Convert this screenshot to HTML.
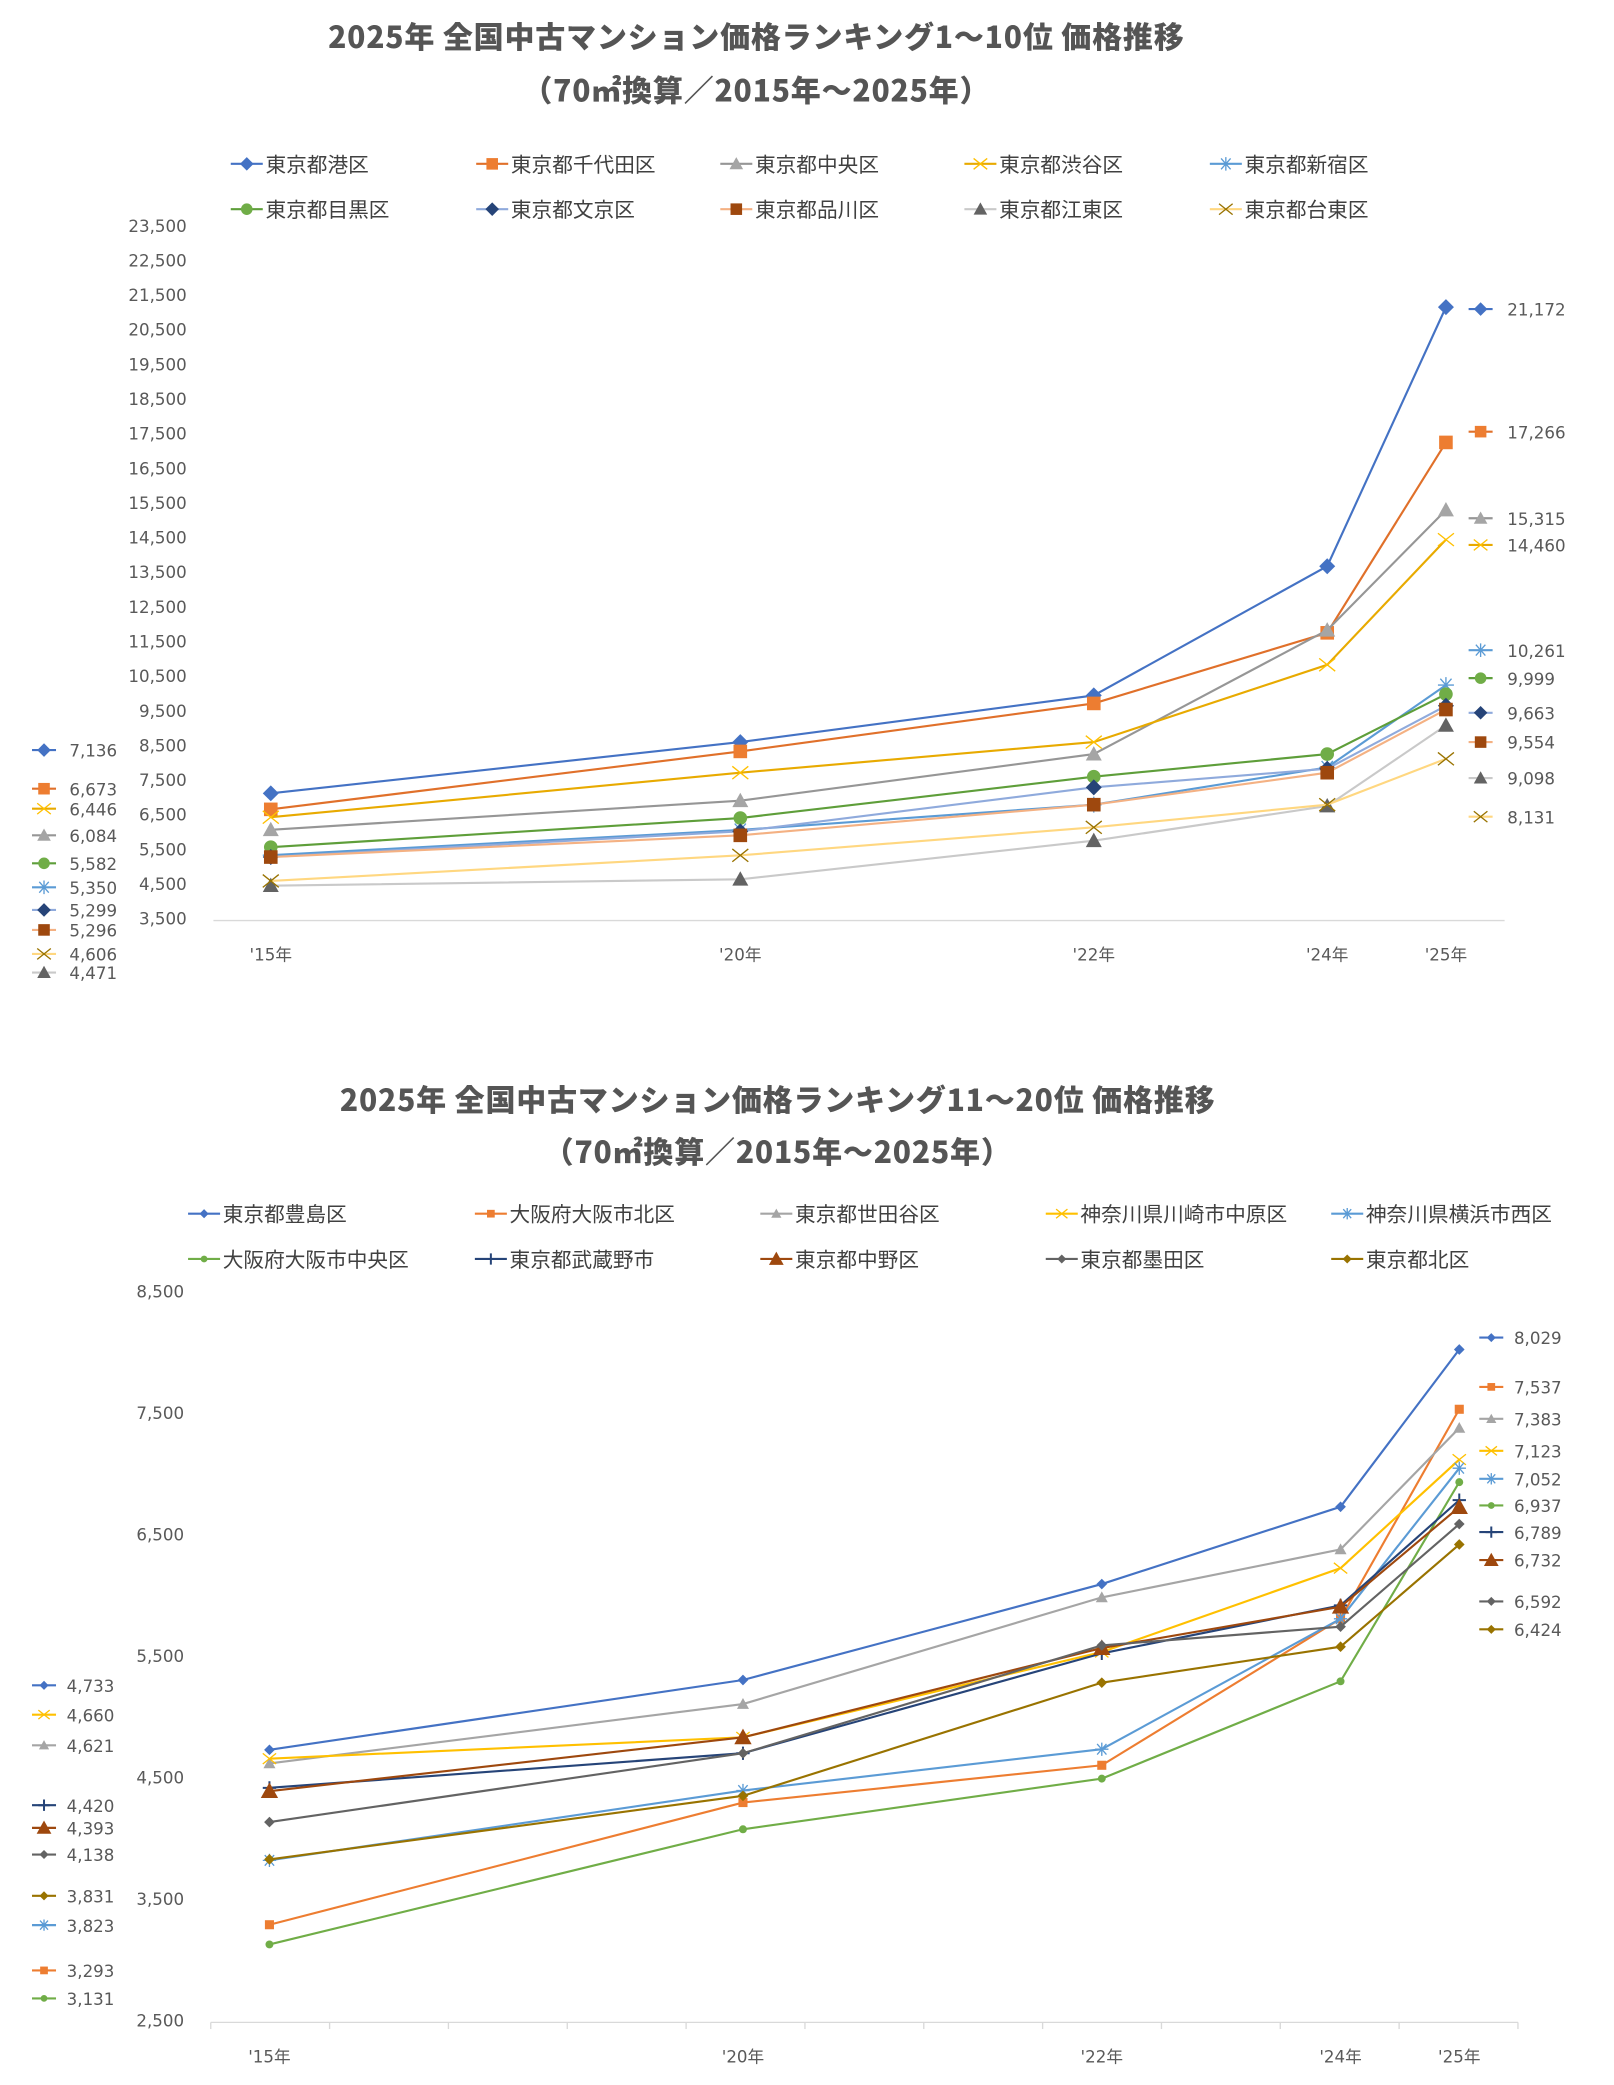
<!DOCTYPE html>
<html><head><meta charset="utf-8">
<style>
html,body{margin:0;padding:0;background:#fff;}
svg{display:block;}
text{font-family:"Liberation Sans","Noto Sans CJK JP",sans-serif;}
.tick{font-family:"DejaVu Sans","Liberation Sans",sans-serif;font-size:12.5px;fill:#595959;}
.lab{font-family:"DejaVu Sans","Liberation Sans",sans-serif;font-size:12.5px;fill:#595959;}
.leg{font-family:"Noto Sans CJK JP",sans-serif;font-size:15.5px;fill:#404040;}
.title{font-family:"Noto Sans CJK JP",sans-serif;font-size:22.5px;font-weight:900;fill:#555;letter-spacing:0.6px;}
</style></head>
<body>
<svg id="root" width="1614" height="2085" viewBox="0 0 1210 1565" preserveAspectRatio="none" xmlns="http://www.w3.org/2000/svg">
<g id="c1">
<text class="title" x="567" y="36" text-anchor="middle">2025年 全国中古マンション価格ランキング1～10位 価格推移</text>
<text class="title" x="567" y="76" text-anchor="middle">（70㎡換算／2015年～2025年）</text>
</g>
<g id="c2">
<text class="title" x="583" y="834" text-anchor="middle">2025年 全国中古マンション価格ランキング11～20位 価格推移</text>
<text class="title" x="583" y="873" text-anchor="middle">（70㎡換算／2015年～2025年）</text>
</g>
</svg>
<script>
// ---------- Chart 1 data ----------
const years = ["'15年","'20年","'22年","'24年","'25年"];
const c1Names = ["東京都港区","東京都千代田区","東京都中央区","東京都渋谷区","東京都新宿区","東京都目黒区","東京都文京区","東京都品川区","東京都江東区","東京都台東区"];
const c1Minato = [7136, 8615, 9962, 13692, 21172];
const c1Chiyoda = [6673, 8346, 9731, 11769, 17266];
const c1Chuo = [6084, 6923, 8269, 11846, 15315];
const c1Shibuya = [6446, 7731, 8615, 10846, 14460];
const c1Shinjuku = [5350, 6077, 6808, 7885, 10261];
const c1Meguro = [5582, 6423, 7615, 8269, 9999];
const c1Bunkyo = [5299, 6038, 7308, 7846, 9663];
const c1Shinagawa = [5296, 5923, 6808, 7731, 9554];
const c1Koto = [4471, 4654, 5769, 6769, 9098];
const c1Taito = [4606, 5346, 6154, 6808, 8131];
const c1Ticks = [3500,4500,5500,6500,7500,8500,9500,10500,11500,12500,13500,14500,15500,16500,17500,18500,19500,20500,21500,22500,23500];

// ---------- Chart 2 data ----------
const c2Names = ["東京都豊島区","大阪府大阪市北区","東京都世田谷区","神奈川県川崎市中原区","神奈川県横浜市西区","大阪府大阪市中央区","東京都武蔵野市","東京都中野区","東京都墨田区","東京都北区"];
const c2Toshima = [4733, 5308, 6098, 6734, 8029];
const c2OsakaKita = [3293, 4299, 4606, 5812, 7537];
const c2Setagaya = [4621, 5110, 5988, 6383, 7383];
const c2Nakahara = [4660, 4836, 5538, 6229, 7123];
const c2Nishi = [3823, 4398, 4738, 5812, 7052];
const c2OsakaChuo = [3131, 4079, 4496, 5297, 6937];
const c2Musashino = [4420, 4705, 5527, 5922, 6789];
const c2Nakano = [4393, 4836, 5571, 5911, 6732];
const c2Sumida = [4138, 4705, 5593, 5747, 6592];
const c2Kita = [3831, 4354, 5286, 5582, 6424];
const c2Ticks = [2500,3500,4500,5500,6500,7500,8500];

const NS="http://www.w3.org/2000/svg";
function mk(parent,tag,attrs){const e=document.createElementNS(NS,tag);for(const k in attrs)e.setAttribute(k,attrs[k]);parent.appendChild(e);return e;}
function fmt(v){return v.toLocaleString('en-US');}

function marker(g,type,x,y,s,fill,stroke){
  let e;
  if(type==='diamond'){e=mk(g,'polygon',{points:`${x},${y-s} ${x+s},${y} ${x},${y+s} ${x-s},${y}`,fill:fill});}
  else if(type==='square'){e=mk(g,'rect',{x:x-s*0.85,y:y-s*0.85,width:s*1.7,height:s*1.7,fill:fill});}
  else if(type==='triangle'){e=mk(g,'polygon',{points:`${x},${y-s} ${x+s},${y+s*0.8} ${x-s},${y+s*0.8}`,fill:fill});}
  else if(type==='circle'){e=mk(g,'circle',{cx:x,cy:y,r:s*0.85,fill:fill});}
  else if(type==='x'){e=mk(g,'path',{d:`M${x-s} ${y-s*0.8}L${x+s} ${y+s*0.8}M${x-s} ${y+s*0.8}L${x+s} ${y-s*0.8}`,stroke:stroke,'stroke-width':1,fill:'none'});}
  else if(type==='star'){e=mk(g,'path',{d:`M${x-s} ${y}L${x+s} ${y}M${x-s*0.7} ${y-s*0.8}L${x+s*0.7} ${y+s*0.8}M${x-s*0.7} ${y+s*0.8}L${x+s*0.7} ${y-s*0.8}M${x} ${y-s}L${x} ${y+s}`,stroke:stroke,'stroke-width':1,fill:'none'});}
  else if(type==='plus'){e=mk(g,'path',{d:`M${x-s} ${y}L${x+s} ${y}M${x} ${y-s}L${x} ${y+s}`,stroke:stroke,'stroke-width':1.5,fill:'none'});}
  return e;
}

function drawChart(cfg){
  const root=document.getElementById(cfg.gid);
  const yS=v=>cfg.y0-(v-cfg.vmin)*(cfg.y0-cfg.y1)/(cfg.vmax-cfg.vmin);
  const ax=mk(root,'line',{x1:cfg.axX0,x2:cfg.axX1,y1:cfg.y0+1,y2:cfg.y0+1,stroke:'#d9d9d9','stroke-width':1});
  
  
  if(cfg.minorTicks){
    for(let t=cfg.axX0;t<=cfg.axX1+1;t+=(cfg.axX1-cfg.axX0)/11){
      const tl=mk(root,'line',{x1:t,x2:t,y1:cfg.y0+1,y2:cfg.y0+6,stroke:'#d9d9d9'});
      
      
    }
  }
  cfg.ticks.forEach(v=>{
    const t=mk(root,'text',{x:cfg.tickX,y:yS(v)+4,'text-anchor':'end',class:'tick'});
    t.textContent=fmt(v);
    
    
  });
  years.forEach((yr,i)=>{
    const t=mk(root,'text',{x:cfg.xs[i],y:cfg.xLabY,'text-anchor':'middle',class:'tick'});
    t.textContent=yr;
    
    
  });
  cfg.series.forEach((s,si)=>{
    const g=mk(root,'g',{});
    
    
    const pts=s.data.map((v,i)=>[cfg.xs[i],yS(v)]);
    const pl=mk(g,'polyline',{points:pts.map(p=>p.join(',')).join(' '),fill:'none',stroke:s.line,'stroke-width':1.6});
    
    
    pts.forEach(p=>{
      const m=marker(g,s.mk,p[0],p[1],s.size,s.fill,s.fill);
      
      
    });
    const lx=cfg.legX[si%5], ly=cfg.legY[Math.floor(si/5)];
    const lg=mk(root,'g',{});
    
    
    mk(lg,'line',{x1:lx,x2:lx+cfg.legW,y1:ly,y2:ly,stroke:s.line,'stroke-width':1.6});
    marker(lg,s.mk,lx+cfg.legW/2,ly,s.size*0.85,s.fill,s.fill);
    const lt=mk(lg,'text',{x:lx+cfg.legW+2,y:ly+6,class:'leg'});
    lt.textContent=cfg.names[si];
    const a=mk(root,'g',{});
    
    
    const ay=cfg.leftY[si];
    mk(a,'line',{x1:cfg.leftMX-9,x2:cfg.leftMX+9,y1:ay,y2:ay,stroke:s.line,'stroke-width':1.6});
    marker(a,s.mk,cfg.leftMX,ay,s.size*0.85,s.fill,s.fill);
    const at=mk(a,'text',{x:cfg.leftTX,y:ay+5,class:'lab'});
    at.textContent=fmt(s.data[0]);
    const b=mk(root,'g',{});
    
    
    const by=cfg.rightY[si];
    mk(b,'line',{x1:cfg.rightMX-9,x2:cfg.rightMX+9,y1:by,y2:by,stroke:s.line,'stroke-width':1.6});
    marker(b,s.mk,cfg.rightMX,by,s.size*0.85,s.fill,s.fill);
    const bt=mk(b,'text',{x:cfg.rightTX,y:by+5,class:'lab'});
    bt.textContent=fmt(s.data[4]);
  });
}

drawChart({
  gid:'c1', names:c1Names, ticks:c1Ticks, vmin:3500, vmax:23500, y0:690, y1:170,
  xs:[203,555,820,995,1084], axX0:160, axX1:1128, tickX:140, xLabY:721, minorTicks:false,
  legX:[173,357,540,723,907], legY:[123,157], legW:24,
  leftY:[563,592,627,607,666,648,683,698,730,716], leftMX:33, leftTX:52,
  rightY:[232,324,389,409,488,509,535,557,584,613], rightMX:1110, rightTX:1130,
  series:[
    {data:c1Minato,line:'#4472C4',fill:'#4472C4',mk:'diamond',size:6},
    {data:c1Chiyoda,line:'#E0702A',fill:'#ED7D31',mk:'square',size:6},
    {data:c1Chuo,line:'#969696',fill:'#A5A5A5',mk:'triangle',size:6},
    {data:c1Shibuya,line:'#E8AA00',fill:'#FFC000',mk:'x',size:6},
    {data:c1Shinjuku,line:'#5B9BD5',fill:'#5B9BD5',mk:'star',size:6},
    {data:c1Meguro,line:'#5E9E3A',fill:'#70AD47',mk:'circle',size:6},
    {data:c1Bunkyo,line:'#8FAADC',fill:'#264478',mk:'diamond',size:6},
    {data:c1Shinagawa,line:'#F4B183',fill:'#9E480E',mk:'square',size:6},
    {data:c1Koto,line:'#C9C9C9',fill:'#636363',mk:'triangle',size:6},
    {data:c1Taito,line:'#FFD780',fill:'#997300',mk:'x',size:6}
  ]
});

drawChart({
  gid:'c2', names:c2Names, ticks:c2Ticks, vmin:2500, vmax:8500, y0:1517, y1:970,
  xs:[202,557,826,1005,1094], axX0:158, axX1:1138, tickX:138, xLabY:1548, minorTicks:true,
  legX:[141,356,570,784,998], legY:[911,945], legW:24,
  leftY:[1265,1479,1310,1287,1445,1500,1355,1372,1392,1423], leftMX:33, leftTX:50,
  rightY:[1004,1041,1065,1089,1110,1130,1150,1171,1202,1223], rightMX:1118, rightTX:1135,
  series:[
    {data:c2Toshima,line:'#4472C4',fill:'#4472C4',mk:'diamond',size:4},
    {data:c2OsakaKita,line:'#ED7D31',fill:'#ED7D31',mk:'square',size:4},
    {data:c2Setagaya,line:'#A5A5A5',fill:'#A5A5A5',mk:'triangle',size:4.5},
    {data:c2Nakahara,line:'#FFC000',fill:'#FFC000',mk:'x',size:5},
    {data:c2Nishi,line:'#5B9BD5',fill:'#5B9BD5',mk:'star',size:5},
    {data:c2OsakaChuo,line:'#70AD47',fill:'#70AD47',mk:'circle',size:3.5},
    {data:c2Musashino,line:'#264478',fill:'#264478',mk:'plus',size:5},
    {data:c2Nakano,line:'#9E480E',fill:'#9E480E',mk:'triangle',size:6.5},
    {data:c2Sumida,line:'#636363',fill:'#636363',mk:'diamond',size:4},
    {data:c2Kita,line:'#997300',fill:'#997300',mk:'diamond',size:4}
  ]
});
</script>
</body></html>
